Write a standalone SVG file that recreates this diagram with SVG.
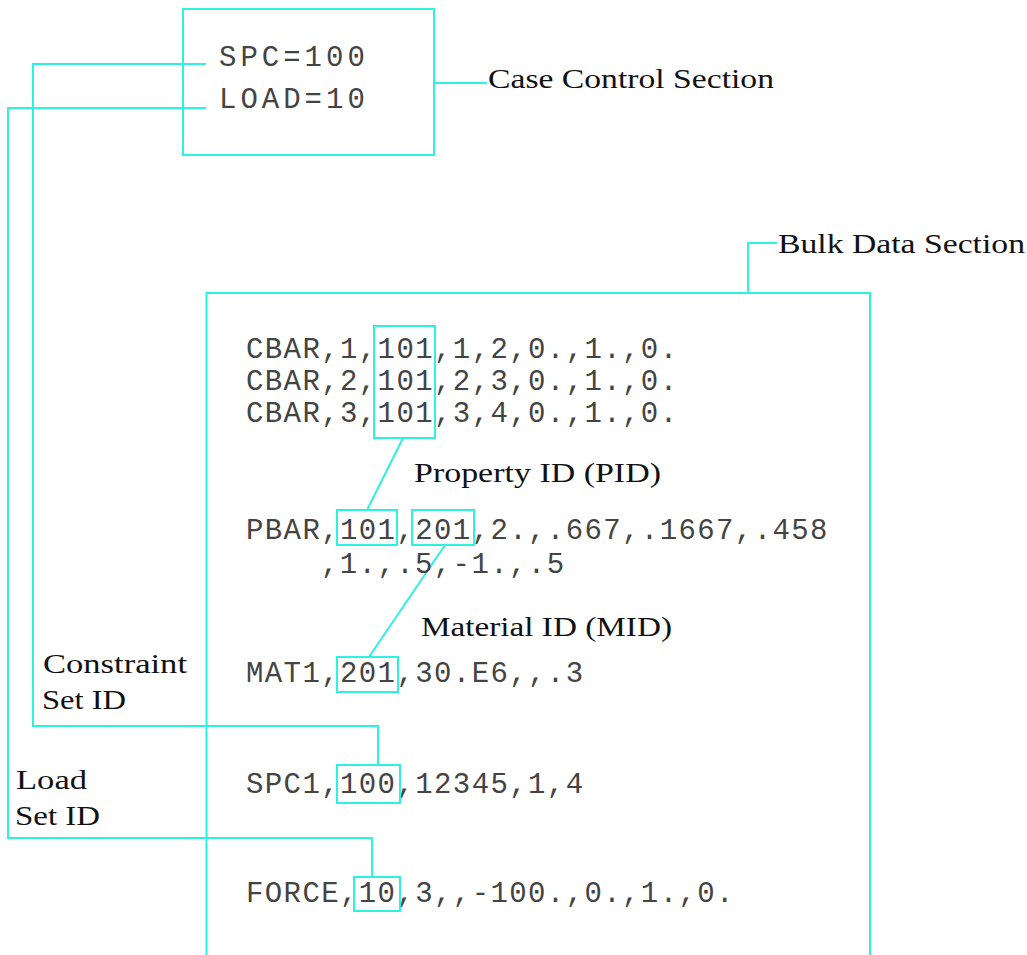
<svg xmlns="http://www.w3.org/2000/svg" width="1027" height="955" viewBox="0 0 1027 955">
<style>
.ln{fill:none;stroke:#2cf2de;stroke-width:2}
.mono{font-family:"Liberation Mono","DejaVu Sans Mono",monospace;font-size:29px;fill:#444}
.top{letter-spacing:4px}
.bulk{letter-spacing:1.4px}
.lbl{font-family:"Liberation Serif","DejaVu Serif",serif;font-size:28px;fill:#111}
</style>
<rect width="1027" height="955" fill="#fff"/>
<g id="connectors">
<polyline class="ln" points="206,64 33,64 33,726 378,726 378,765"/>
<polyline class="ln" points="206,108 8,108 8,838 372,838 372,877"/>
<line class="ln" x1="434" y1="83" x2="487" y2="83"/>
<polyline class="ln" points="748,293 748,243 777,243"/>
<line class="ln" x1="403" y1="438" x2="367" y2="510"/>
<line class="ln" x1="445" y1="545" x2="369" y2="657"/>
</g>
<g id="case-control">
<rect class="ln" x="183" y="9" width="251" height="146"/>
<text class="mono top" x="219" y="65.5">SPC=100</text>
<text class="mono top" x="219" y="108">LOAD=10</text>
</g>
<g id="case-control-label"><text class="lbl" x="488" y="88" textLength="286" lengthAdjust="spacingAndGlyphs">Case Control Section</text></g>
<g id="bulk-data">
<polyline class="ln" points="206.5,955 206.5,293 870,293 870,955"/>
<text class="mono bulk" x="246" y="358">CBAR,1,101,1,2,0.,1.,0.</text>
<text class="mono bulk" x="246" y="390">CBAR,2,101,2,3,0.,1.,0.</text>
<text class="mono bulk" x="246" y="422">CBAR,3,101,3,4,0.,1.,0.</text>
<text class="mono bulk" x="246" y="539">PBAR,101,201,2.,.667,.1667,.458</text>
<text class="mono bulk" x="321" y="573">,1.,.5,-1.,.5</text>
<text class="mono bulk" x="246" y="682">MAT1,201,30.E6,,.3</text>
<text class="mono bulk" x="246" y="793">SPC1,100,12345,1,4</text>
<text class="mono bulk" x="246" y="902">FORCE,10,3,,-100.,0.,1.,0.</text>
</g>
<g id="bulk-data-label"><text class="lbl" x="778" y="253" textLength="247" lengthAdjust="spacingAndGlyphs">Bulk Data Section</text></g>
<g id="pid-box"><rect class="ln" x="374" y="326" width="61" height="112"/></g>
<g id="pbar-pid-box"><rect class="ln" x="337" y="510" width="60" height="35"/></g>
<g id="pbar-mid-box"><rect class="ln" x="412" y="510" width="62" height="35"/></g>
<g id="mat1-mid-box"><rect class="ln" x="337" y="657" width="61" height="35"/></g>
<g id="spc1-box"><rect class="ln" x="337" y="765" width="63" height="38"/></g>
<g id="force-box"><rect class="ln" x="354" y="877" width="46" height="34"/></g>
<g id="pid-label"><text class="lbl" x="414" y="482" textLength="247" lengthAdjust="spacingAndGlyphs">Property ID (PID)</text></g>
<g id="mid-label"><text class="lbl" x="421" y="636" textLength="251" lengthAdjust="spacingAndGlyphs">Material ID (MID)</text></g>
<g id="constraint-label">
<text class="lbl" x="43" y="673" textLength="144" lengthAdjust="spacingAndGlyphs">Constraint</text>
<text class="lbl" x="42" y="709" textLength="84" lengthAdjust="spacingAndGlyphs">Set ID</text>
</g>
<g id="load-label">
<text class="lbl" x="16" y="789" textLength="71" lengthAdjust="spacingAndGlyphs">Load</text>
<text class="lbl" x="15" y="825" textLength="85" lengthAdjust="spacingAndGlyphs">Set ID</text>
</g>
</svg>
